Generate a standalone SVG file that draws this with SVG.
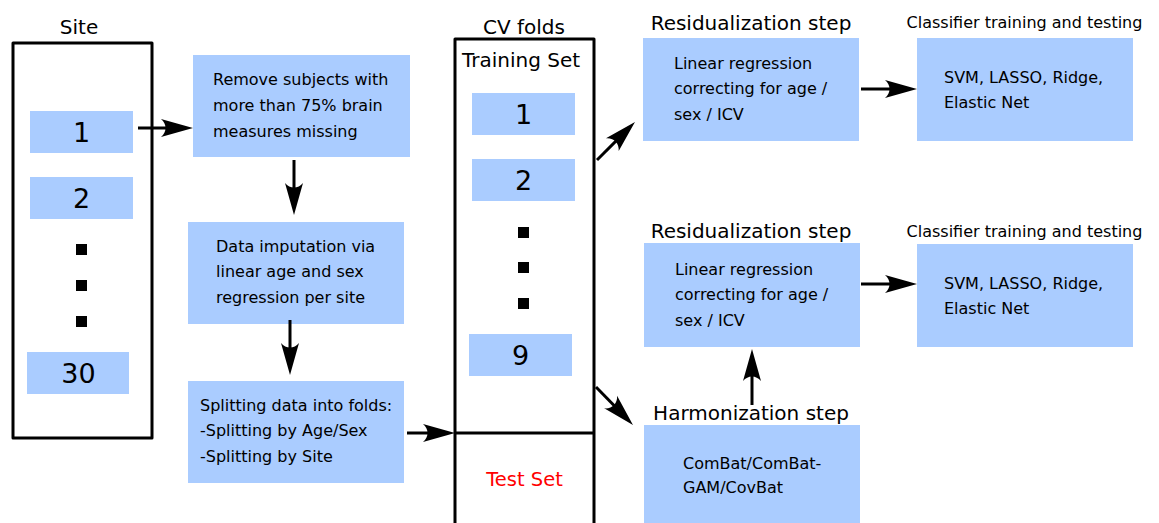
<svg xmlns="http://www.w3.org/2000/svg" width="1159" height="523" viewBox="0 0 1159 523">
<style>
text{font-family:"DejaVu Sans","Liberation Sans",sans-serif;fill:#000}
.box{fill:#aaccff;stroke:none}
.frame{fill:none;stroke:#000;stroke-width:3;stroke-linejoin:round}
.t16{font-size:16px}
.t20{font-size:20px}
.num{font-size:27px;text-anchor:middle}
.mid{text-anchor:middle}
.conn line{stroke:#000;stroke-width:3;marker-end:url(#ah)}
.dot{fill:#000}
</style>
<defs>
<marker id="ah" markerUnits="userSpaceOnUse" markerWidth="42" markerHeight="24" refX="30" refY="12" orient="auto">
<path d="M40,12 L8,3 C14,8 14,16 8,21 Z" fill="#000"/>
</marker>
</defs>
<rect width="1159" height="523" fill="#fff"/>

<g id="site">
<text class="t20 mid" x="79" y="34">Site</text>
<rect class="frame" x="13" y="43" width="139" height="395"/>
<rect class="box" x="30" y="111" width="103" height="42"/>
<text class="num" x="81.5" y="142">1</text>
<rect class="box" x="30" y="177" width="103" height="42"/>
<text class="num" x="81.5" y="208">2</text>
<rect class="dot" x="76" y="244" width="11" height="11"/>
<rect class="dot" x="76" y="280" width="11" height="11"/>
<rect class="dot" x="76" y="316" width="11" height="11"/>
<rect class="box" x="27" y="352" width="102" height="42"/>
<text class="num" x="78.5" y="383">30</text>
</g>

<g id="remove">
<rect class="box" x="193" y="55" width="217" height="102"/>
<text class="t16" x="213" y="85">Remove subjects with</text>
<text class="t16" x="213" y="111">more than 75% brain</text>
<text class="t16" x="213" y="137">measures missing</text>
</g>

<g id="impute">
<rect class="box" x="188" y="222" width="216" height="102"/>
<text class="t16" x="216" y="252">Data imputation via</text>
<text class="t16" x="216" y="277">linear age and sex</text>
<text class="t16" x="216" y="303">regression per site</text>
</g>

<g id="split">
<rect class="box" x="188" y="381" width="216" height="102"/>
<text class="t16" x="200" y="411">Splitting data into folds:</text>
<text class="t16" x="200" y="436">-Splitting by Age/Sex</text>
<text class="t16" x="200" y="462">-Splitting by Site</text>
</g>

<g id="cvfolds">
<text class="t20 mid" x="524" y="34">CV folds</text>
<rect class="frame" x="455" y="39" width="139" height="500"/>
<line x1="455" y1="433" x2="594" y2="433" stroke="#000" stroke-width="3"/>
<text class="t20 mid" x="521" y="67">Training Set</text>
<rect class="box" x="472" y="93" width="103" height="42"/>
<text class="num" x="523.5" y="124">1</text>
<rect class="box" x="472" y="159" width="103" height="42"/>
<text class="num" x="523.5" y="190">2</text>
<rect class="dot" x="518" y="227" width="11" height="11"/>
<rect class="dot" x="518" y="262" width="11" height="11"/>
<rect class="dot" x="518" y="298" width="11" height="11"/>
<rect class="box" x="469" y="334" width="103" height="42"/>
<text class="num" x="520.5" y="365">9</text>
<text class="mid" x="524.5" y="486" style="font-size:19.5px;fill:#ff0000">Test Set</text>
</g>

<g id="resid1">
<text class="t20 mid" x="751" y="30">Residualization step</text>
<rect class="box" x="643" y="38" width="216" height="103"/>
<text class="t16" x="674" y="69">Linear regression</text>
<text class="t16" x="674" y="94">correcting for age /</text>
<text class="t16" x="674" y="120">sex / ICV</text>
</g>

<g id="class1">
<text class="t16 mid" x="1024.5" y="28">Classifier training and testing</text>
<rect class="box" x="917" y="38" width="216" height="103"/>
<text class="t16" x="944" y="83">SVM, LASSO, Ridge,</text>
<text class="t16" x="944" y="108">Elastic Net</text>
</g>

<g id="resid2">
<text class="t20 mid" x="751" y="238">Residualization step</text>
<rect class="box" x="644" y="243" width="216" height="104"/>
<text class="t16" x="675" y="275">Linear regression</text>
<text class="t16" x="675" y="300">correcting for age /</text>
<text class="t16" x="675" y="326">sex / ICV</text>
</g>

<g id="class2">
<text class="t16 mid" x="1024.5" y="237">Classifier training and testing</text>
<rect class="box" x="917" y="244" width="216" height="103"/>
<text class="t16" x="944" y="289">SVM, LASSO, Ridge,</text>
<text class="t16" x="944" y="314">Elastic Net</text>
</g>

<g id="harm">
<text class="t20 mid" x="751" y="420">Harmonization step</text>
<rect class="box" x="644" y="425" width="216" height="110"/>
<text class="t16" x="683" y="469">ComBat/ComBat-</text>
<text class="t16" x="683" y="493">GAM/CovBat</text>
</g>

<g id="connectors" class="conn">
<line x1="138" y1="128" x2="183" y2="128"/>
<line x1="294" y1="160" x2="294" y2="205"/>
<line x1="290" y1="320" x2="290" y2="365"/>
<line x1="407" y1="433" x2="445" y2="433"/>
<line x1="597" y1="160" x2="627.9" y2="129.1"/>
<line x1="596" y1="387" x2="626" y2="417.8"/>
<line x1="861" y1="89" x2="907" y2="89"/>
<line x1="861" y1="284" x2="907" y2="284"/>
<line x1="752" y1="405" x2="752" y2="359"/>
</g>
</svg>
